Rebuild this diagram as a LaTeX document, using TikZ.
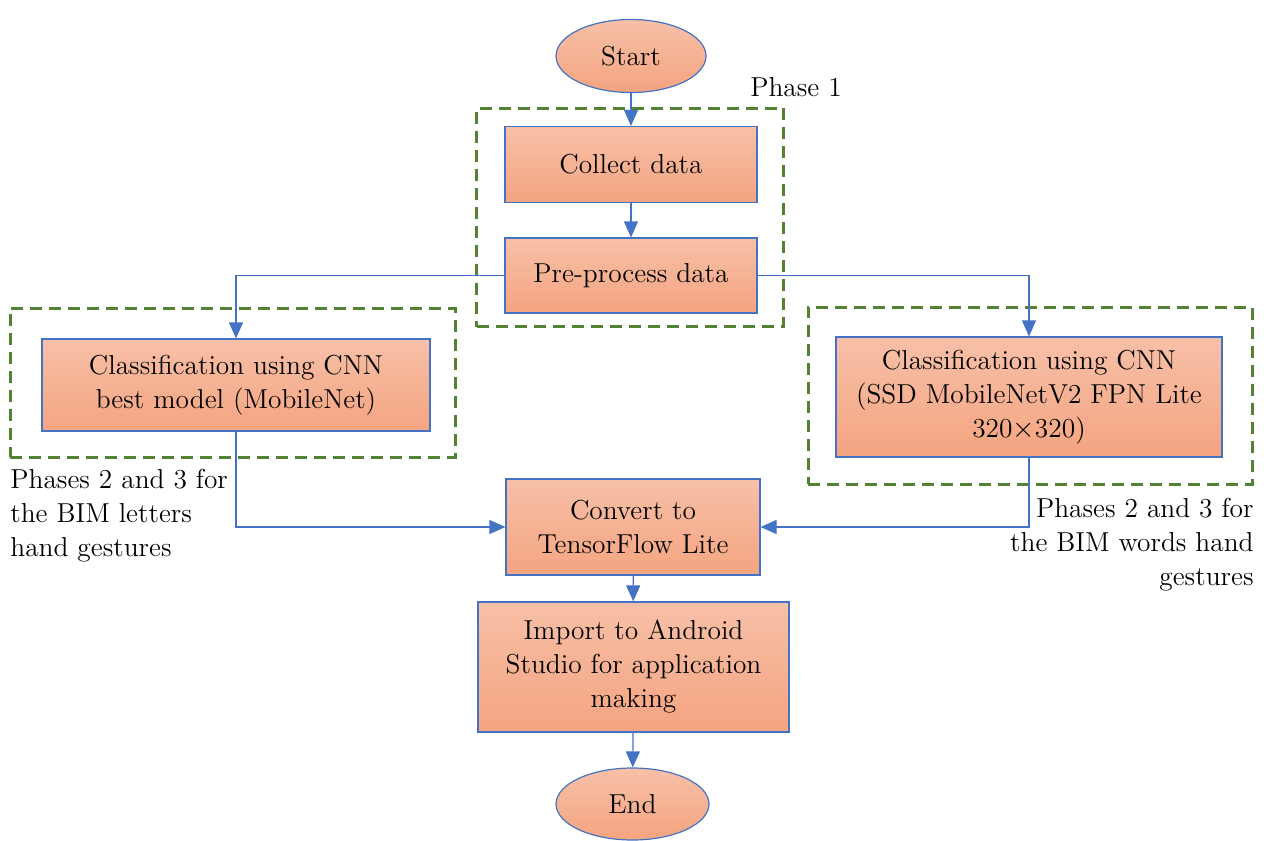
\documentclass[tikz,border=0pt]{standalone}
\usetikzlibrary{arrows.meta,shapes.geometric,positioning}
\definecolor{boxblue}{RGB}{68,114,196}
\definecolor{dashgreen}{RGB}{84,130,53}
\definecolor{filltop}{RGB}{247,192,168}
\definecolor{fillbot}{RGB}{244,164,128}
\begin{document}
\begin{tikzpicture}[x=0.5pt,y=-0.5pt,
  txt/.style={font=\fontsize{13.7}{17}\selectfont},
  procbox/.style={draw=boxblue,line width=0.6pt,top color=filltop,bottom color=fillbot,
    rectangle,inner sep=0pt,align=center,txt},
  termbox/.style={draw=boxblue,line width=0.6pt,top color=filltop,bottom color=fillbot,
    ellipse,inner sep=0pt,align=center,txt},
  phasebox/.style={draw=dashgreen,line width=1.5pt,dash pattern=on 6pt off 3.5pt,
    rectangle,inner sep=0pt},
  arr/.style={draw=boxblue,line width=0.6pt,-{Triangle[width=7pt,length=8pt]}},
  lbl/.style={inner sep=0pt,txt}]
\useasboundingbox (0,0) rectangle (1266,841);
% phase frames
\node[phasebox,minimum width=306.6pt*0.5,minimum height=218.7pt*0.5] (ph1) at (630,217.4) {};
\node[phasebox,minimum width=445pt*0.5,minimum height=149pt*0.5] (ph2) at (232.5,382.5) {};
\node[phasebox,minimum width=444pt*0.5,minimum height=177pt*0.5] (ph3) at (1030,395.5) {};
% nodes
\node[termbox,minimum width=150pt*0.5,minimum height=73pt*0.5] (start) at (631,56) {Start};
\node[procbox,minimum width=252pt*0.5,minimum height=76pt*0.5] (collect) at (631,164.5) {Collect data};
\node[procbox,minimum width=252pt*0.5,minimum height=75pt*0.5] (pre) at (631,275.5) {Pre-process data};
\node[procbox,minimum width=388pt*0.5,minimum height=92pt*0.5] (left) at (236,385) {Classification using CNN\\best model (MobileNet)};
\node[procbox,minimum width=386pt*0.5,minimum height=120pt*0.5] (right) at (1029,397) {Classification using CNN\\(SSD MobileNetV2 FPN Lite\\320$\times$320)};
\node[procbox,minimum width=254pt*0.5,minimum height=96pt*0.5] (conv) at (633,527) {Convert to\\TensorFlow Lite};
\node[procbox,minimum width=311pt*0.5,minimum height=130pt*0.5] (imp) at (633.5,667) {Import to Android\\Studio for application\\making};
\node[termbox,minimum width=153pt*0.5,minimum height=72pt*0.5] (end) at (632.5,804) {End};
% labels
\node[lbl] (l1) at (796,87) {Phase 1};
\node[lbl,anchor=north west,align=left] (l2) at (10,469) {Phases 2 and 3 for\\the BIM letters\\hand gestures};
\node[lbl,anchor=north east,align=right] (l3) at (1254,498) {Phases 2 and 3 for\\the BIM words hand\\gestures};
% connectors
\draw[arr] (start) -- (collect);
\draw[arr] (collect) -- (pre);
\draw[arr] (pre.west) -| (left.north);
\draw[arr] (pre.east) -| (right.north);
\draw[arr] (left.south) |- (conv.west);
\draw[arr] (right.south) |- (conv.east);
\draw[arr] (conv) -- (imp);
\draw[arr] (imp) -- (end);
\end{tikzpicture}
\end{document}
